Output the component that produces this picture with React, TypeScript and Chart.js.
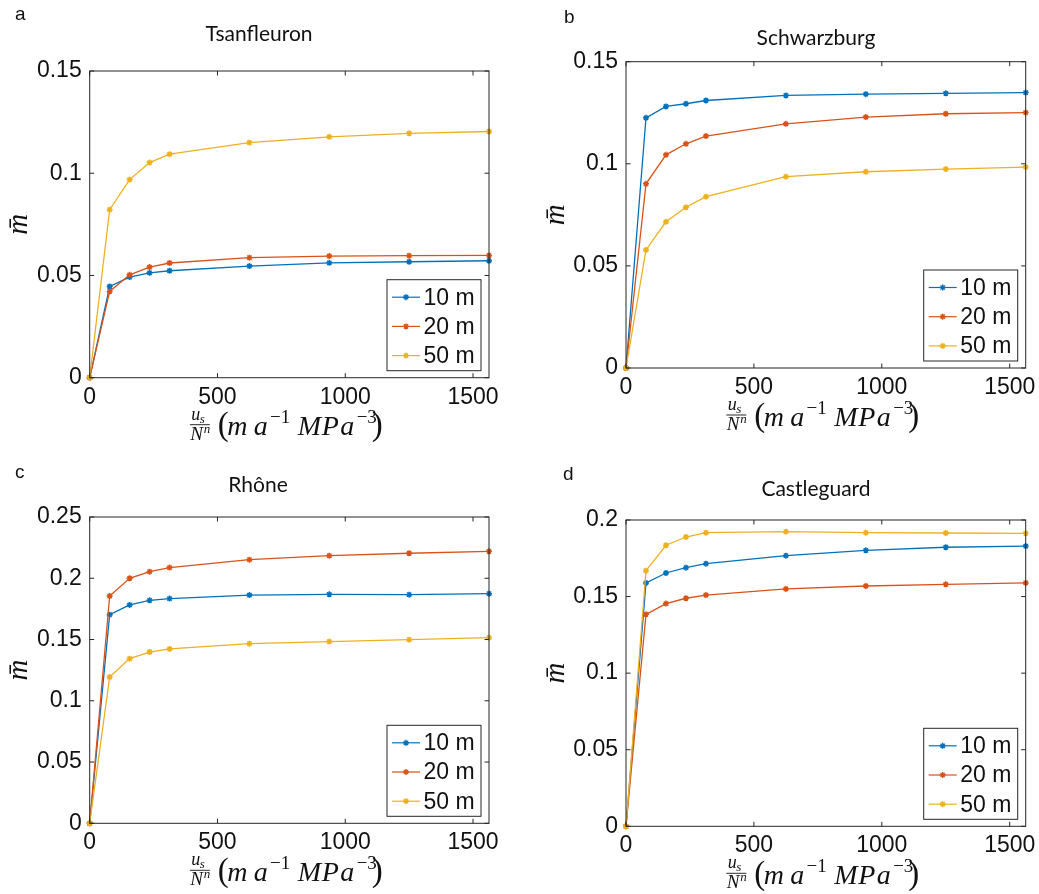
import React, { useEffect, useRef } from 'react';
import { Chart, registerables } from 'chart.js';

Chart.register(...registerables);

// ---------- data ----------
const xValues = [0, 78.125, 156.25, 234.375, 312.5, 625, 937.5, 1250, 1562.5];
const xTicks = [0, 500, 1000, 1500];
const seriesLabels = ['10 m', '20 m', '50 m'];
const seriesColors = ['#0072BD', '#D95319', '#EDB120'];

const tsanfleuron10 = [0, 0.0446, 0.0492, 0.0513, 0.0523, 0.0546, 0.0562, 0.0567, 0.0572];
const tsanfleuron20 = [0, 0.0422, 0.0503, 0.0541, 0.0561, 0.0587, 0.0595, 0.0597, 0.0598];
const tsanfleuron50 = [0, 0.0822, 0.0969, 0.1052, 0.1093, 0.115, 0.1178, 0.1195, 0.1204];
const tsanfleuronYTicks = [0, 0.05, 0.1, 0.15];

const schwarzburg10 = [0, 0.1225, 0.1281, 0.1294, 0.131, 0.1335, 0.1341, 0.1345, 0.1349];
const schwarzburg20 = [0, 0.0902, 0.1044, 0.1098, 0.1136, 0.1196, 0.1229, 0.1245, 0.1251];
const schwarzburg50 = [0, 0.0578, 0.0716, 0.0787, 0.0839, 0.0937, 0.0961, 0.0974, 0.0984];
const schwarzburgYTicks = [0, 0.05, 0.1, 0.15];

const rhone10 = [0, 0.1703, 0.1782, 0.182, 0.1834, 0.1863, 0.1869, 0.1866, 0.1874];
const rhone20 = [0, 0.1855, 0.2, 0.2054, 0.2087, 0.2152, 0.2184, 0.2204, 0.222];
const rhone50 = [0, 0.1194, 0.1344, 0.1398, 0.1423, 0.1466, 0.1483, 0.1499, 0.1515];
const rhoneYTicks = [0, 0.05, 0.1, 0.15, 0.2, 0.25];

const castleguard10 = [0, 0.1589, 0.1654, 0.1689, 0.1715, 0.1767, 0.1802, 0.1822, 0.183];
const castleguard20 = [0, 0.1384, 0.1454, 0.1489, 0.151, 0.155, 0.1569, 0.158, 0.1589];
const castleguard50 = [0, 0.1669, 0.1835, 0.1889, 0.1917, 0.1924, 0.1917, 0.1915, 0.1913];
const castleguardYTicks = [0, 0.05, 0.1, 0.15, 0.2];

// ---------- layout ----------
const AXIS_COLOR = '#262626';
const TEXT_COLOR = '#111111';
const TICK_FONT = '"Liberation Sans", Arial, sans-serif';
const SERIF = '"Liberation Serif", "Times New Roman", serif';

type Spec = {
  letter: string;
  title: string;
  series: number[][];
  yTicks: number[];
  left: number;
  top: number;
  w: number;
  h: number;
  pad: { left: number; right: number; top: number; bottom: number };
  letterPos: [number, number];
  titlePos: [number, number];
};

const panels: Spec[] = [
  {
    letter: 'a', title: 'Tsanfleuron', series: [tsanfleuron10, tsanfleuron20, tsanfleuron50], yTicks: tsanfleuronYTicks,
    left: 0, top: 0, w: 520, h: 447,
    pad: { left: 29.7, right: 31, top: 71, bottom: 29.3 },
    letterPos: [15, 20], titlePos: [259, 34],
  },
  {
    letter: 'b', title: 'Schwarzburg', series: [schwarzburg10, schwarzburg20, schwarzburg50], yTicks: schwarzburgYTicks,
    left: 520, top: 0, w: 519, h: 447,
    pad: { left: 46, right: 13.3, top: 61.7, bottom: 39 },
    letterPos: [44, 23], titlePos: [296, 38],
  },
  {
    letter: 'c', title: 'Rhône', series: [rhone10, rhone20, rhone50], yTicks: rhoneYTicks,
    left: 0, top: 447, w: 520, h: 447,
    pad: { left: 29.7, right: 31, top: 70, bottom: 30.7 },
    letterPos: [15, 31], titlePos: [258, 38],
  },
  {
    letter: 'd', title: 'Castleguard', series: [castleguard10, castleguard20, castleguard50], yTicks: castleguardYTicks,
    left: 520, top: 447, w: 519, h: 447,
    pad: { left: 46, right: 13.3, top: 73, bottom: 27.7 },
    letterPos: [43, 33], titlePos: [296, 42],
  },
];

function drawStar(ctx: CanvasRenderingContext2D, x: number, y: number, r: number) {
  const d = r * Math.SQRT1_2;
  ctx.beginPath();
  ctx.moveTo(x - r, y); ctx.lineTo(x + r, y);
  ctx.moveTo(x, y - r); ctx.lineTo(x, y + r);
  ctx.moveTo(x - d, y - d); ctx.lineTo(x + d, y + d);
  ctx.moveTo(x - d, y + d); ctx.lineTo(x + d, y - d);
  ctx.stroke();
}

// pieces of the x-axis label: text, font, x offset from plot centre, baseline offset from plot bottom
type Piece = { t: string; f: string; dx: number; dy: number };
const MAIN = `italic 28px ${SERIF}`;
const SUP = `19px ${SERIF}`;
const PAREN = `33px ${SERIF}`;
const xLabelPieces: Piece[] = [
  { t: 'u', f: `italic 18px ${SERIF}`, dx: -98, dy: 41.8 },
  { t: 's', f: `italic 13px ${SERIF}`, dx: -89.5, dy: 44.8 },
  { t: 'N', f: `italic 19px ${SERIF}`, dx: -99, dy: 61.8 },
  { t: 'n', f: `italic 13px ${SERIF}`, dx: -85.5, dy: 55 },
  { t: '(', f: PAREN, dx: -71.5, dy: 57.5 },
  { t: 'm', f: MAIN, dx: -62, dy: 57.7 },
  { t: 'a', f: MAIN, dx: -35.5, dy: 57.7 },
  { t: '−1', f: SUP, dx: -19.3, dy: 45.5 },
  { t: 'M', f: MAIN, dx: 8.5, dy: 57.7 },
  { t: 'P', f: MAIN, dx: 32.5, dy: 57.7 },
  { t: 'a', f: MAIN, dx: 51, dy: 57.7 },
  { t: '−3', f: SUP, dx: 67.3, dy: 45.5 },
  { t: ')', f: PAREN, dx: 82.5, dy: 57.5 },
];

function drawXLabel(ctx: CanvasRenderingContext2D, cx: number, bottom: number) {
  ctx.save();
  ctx.fillStyle = TEXT_COLOR;
  ctx.textBaseline = 'alphabetic';
  ctx.textAlign = 'left';
  for (const p of xLabelPieces) {
    ctx.font = p.f;
    ctx.fillText(p.t, cx + p.dx, bottom + p.dy);
  }
  // fraction bar
  ctx.strokeStyle = TEXT_COLOR;
  ctx.lineWidth = 0.9;
  ctx.beginPath();
  ctx.moveTo(cx - 99.5, bottom + 47);
  ctx.lineTo(cx - 79.5, bottom + 47);
  ctx.stroke();
  ctx.restore();
}

function Panel({ spec }: { spec: Spec }) {
  const ref = useRef<HTMLCanvasElement>(null);
  useEffect(() => {
    const canvas = ref.current;
    if (!canvas) return;
    const decor = {
      id: 'decor',
      afterDraw(chart: any) {
        const { ctx, chartArea: ca, scales } = chart;
        ctx.save();
        // box
        ctx.strokeStyle = AXIS_COLOR;
        ctx.lineWidth = 1;
        ctx.strokeRect(ca.left, ca.top, ca.right - ca.left, ca.bottom - ca.top);
        // inward ticks on all four sides
        const tl = 4.5;
        ctx.beginPath();
        for (const t of scales.x.ticks) {
          const px = scales.x.getPixelForValue(t.value);
          ctx.moveTo(px, ca.bottom); ctx.lineTo(px, ca.bottom - tl);
          ctx.moveTo(px, ca.top); ctx.lineTo(px, ca.top + tl);
        }
        for (const t of scales.y.ticks) {
          const py = scales.y.getPixelForValue(t.value);
          ctx.moveTo(ca.left, py); ctx.lineTo(ca.left + tl, py);
          ctx.moveTo(ca.right, py); ctx.lineTo(ca.right - tl, py);
        }
        ctx.stroke();

        // panel letter
        ctx.fillStyle = TEXT_COLOR;
        ctx.font = `19px ${TICK_FONT}`;
        ctx.textAlign = 'left';
        ctx.textBaseline = 'alphabetic';
        ctx.fillText(spec.letter, spec.letterPos[0], spec.letterPos[1]);

        // title
        ctx.font = '21px Lato, "Noto Sans", sans-serif';
        ctx.textAlign = 'center';
        ctx.textBaseline = 'middle';
        ctx.fillText(spec.title, spec.titlePos[0], spec.titlePos[1]);

        // y label (m-bar), rotated
        ctx.save();
        ctx.translate(ca.left - 70, (ca.top + ca.bottom) / 2);
        ctx.rotate(-Math.PI / 2);
        ctx.font = `italic 29px ${SERIF}`;
        ctx.textAlign = 'center';
        ctx.textBaseline = 'middle';
        ctx.fillText('m\u0304', 0, 0);
        ctx.restore();

        // x label
        drawXLabel(ctx, (ca.left + ca.right) / 2, ca.bottom);

        // legend
        const bw = 94, bh = 91;
        const bx = ca.right - 8 - bw;
        const by = ca.bottom - 7 - bh;
        ctx.fillStyle = '#ffffff';
        ctx.fillRect(bx, by, bw, bh);
        ctx.strokeStyle = AXIS_COLOR;
        ctx.lineWidth = 1;
        ctx.strokeRect(bx, by, bw, bh);
        chart.data.datasets.forEach((ds: any, i: number) => {
          const ry = by + 17.5 + i * 29.2;
          ctx.strokeStyle = ds.borderColor;
          ctx.lineWidth = 1.2;
          ctx.beginPath();
          ctx.moveTo(bx + 5, ry); ctx.lineTo(bx + 33, ry);
          ctx.stroke();
          ctx.lineWidth = 1.4;
          drawStar(ctx, bx + 19, ry, 3);
          ctx.fillStyle = TEXT_COLOR;
          ctx.font = `23px ${TICK_FONT}`;
          ctx.textAlign = 'left';
          ctx.textBaseline = 'middle';
          ctx.fillText(ds.label, bx + 36.5, ry + 1);
        });
        ctx.restore();
      },
    };

    const yMax = spec.yTicks[spec.yTicks.length - 1];
    const chart = new Chart(canvas, {
      type: 'line',
      data: {
        datasets: spec.series.map((vals, i) => ({
          label: seriesLabels[i],
          data: xValues.map((x, j) => ({ x, y: vals[j] })),
          borderColor: seriesColors[i],
          backgroundColor: seriesColors[i],
          borderWidth: 1.3,
          pointStyle: 'star',
          pointRadius: 3,
          pointBorderWidth: 1.5,
          pointHoverRadius: 3,
          tension: 0,
          fill: false,
          order: 3 - i,
          clip: 8,
        })),
      },
      options: {
        animation: false,
        responsive: false,
        devicePixelRatio: 1,
        events: [],
        layout: { padding: spec.pad },
        plugins: {
          legend: { display: false },
          tooltip: { enabled: false },
          title: { display: false },
        },
        scales: {
          x: {
            type: 'linear',
            min: 0,
            max: xValues[xValues.length - 1],
            afterBuildTicks: (s: any) => { s.ticks = xTicks.map((v) => ({ value: v })); },
            afterFit: (s: any) => { s.height = 40; s.paddingLeft = 0; s.paddingRight = 0; },
            grid: { display: false, drawTicks: false },
            border: { display: false },
            ticks: {
              padding: 6,
              autoSkip: false,
              maxRotation: 0,
              color: TEXT_COLOR,
              font: { family: TICK_FONT, size: 23 },
              callback: (v: any) => String(v),
            },
          },
          y: {
            type: 'linear',
            min: 0,
            max: yMax,
            afterBuildTicks: (s: any) => { s.ticks = spec.yTicks.map((v) => ({ value: v })); },
            afterFit: (s: any) => { s.width = 60; s.paddingTop = 0; s.paddingBottom = 0; },
            grid: { display: false, drawTicks: false },
            border: { display: false },
            ticks: {
              padding: 8,
              autoSkip: false,
              color: TEXT_COLOR,
              font: { family: TICK_FONT, size: 23 },
              callback: (v: any) => String(v),
            },
          },
        },
      },
      plugins: [decor],
    } as any);
    return () => chart.destroy();
  }, [spec]);
  return (
    <canvas
      ref={ref}
      width={spec.w}
      height={spec.h}
      style={{ position: 'absolute', left: spec.left, top: spec.top, width: spec.w, height: spec.h }}
    />
  );
}

export default function App() {
  return (
    <div style={{ position: 'absolute', left: 0, top: 0, width: 1039, height: 894, background: '#ffffff' }}>
      {panels.map((p) => (
        <Panel key={p.letter} spec={p} />
      ))}
    </div>
  );
}
